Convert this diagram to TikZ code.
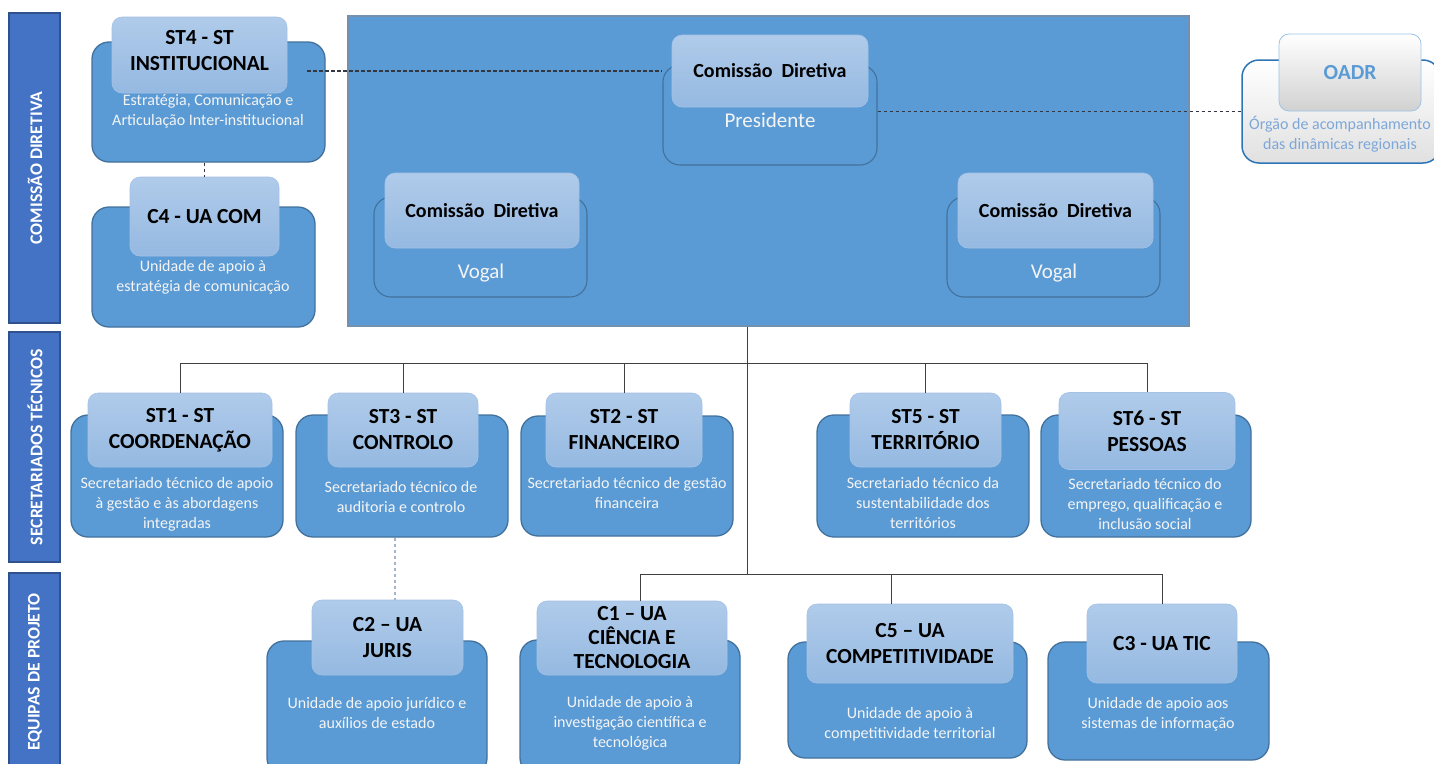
\documentclass[tikz,border=0pt]{standalone}
\usepackage{fontspec}
\setmainfont{Carlito}
\definecolor{ofill}{HTML}{5B9BD5}
\definecolor{obord}{HTML}{41719C}
\definecolor{ttop}{HTML}{B0CBEA}
\definecolor{tbot}{HTML}{95B9E1}
\definecolor{tbord}{HTML}{A4C2E6}
\definecolor{bandfill}{HTML}{4472C4}
\definecolor{bandbord}{HTML}{2F528F}
\definecolor{mainbord}{HTML}{7390AE}
\definecolor{linec}{HTML}{404040}
\definecolor{dashc}{HTML}{333840}
\definecolor{ldashc}{HTML}{A5B5C8}
\definecolor{oadrb}{HTML}{2E75B6}
\definecolor{oadrtx}{HTML}{5B9BD5}
\definecolor{oadrdx}{HTML}{7DA7D9}
\definecolor{oadrtb}{HTML}{9DC3E6}
\definecolor{descc}{HTML}{F4F4F4}
\newcommand\ttlf{\fontsize{21.5}{26}\selectfont\bfseries}
\newcommand\ttlg{\fontsize{21.5}{24}\selectfont\bfseries}
\newcommand\cdf{\fontsize{20}{24}\selectfont\bfseries}
\newcommand\descf{\fontsize{16}{20}\selectfont}
\newcommand\rolef{\fontsize{21}{24}\selectfont}
\newcommand\bandf{\fontsize{17.7}{20}\selectfont\bfseries}
\tikzset{
  obox/.style={draw=obord, fill=ofill, line width=1.3pt, rounded corners=17pt, inner sep=0pt},
  ibox/.style={draw=obord, line width=1.1pt, rounded corners=17pt, inner sep=0pt},
  tbox/.style={draw=tbord, top color=ttop, bottom color=tbot, line width=0.6pt, rounded corners=10pt, inner sep=0pt, align=center, font=\ttlf, text=black},
  ttext/.style={align=center, font=\ttlf, text=black, inner sep=0pt},
  desc/.style={text=descc, font=\descf, align=center, inner sep=0pt},
  role/.style={text=descc, font=\rolef, inner sep=0pt},
  band/.style={draw=bandbord, fill=bandfill, line width=1.2pt, inner sep=0pt},
  bandlbl/.style={text=white, font=\bandf, rotate=90, inner sep=0pt},
  mainbox/.style={draw=mainbord, fill=ofill, line width=1.4pt, inner sep=0pt},
  oadrbox/.style={draw=oadrb, line width=1.5pt, top color=white, bottom color=black!12, rounded corners=17pt, inner sep=0pt},
  oadrtitle/.style={draw=oadrtb, line width=0.8pt, top color=white, bottom color=black!18, rounded corners=10pt, inner sep=0pt, text=oadrtx, font=\ttlf},
  tree/.style={draw=linec, line width=0.9pt},
  ddash/.style={draw=dashc, line width=1.2pt, dash pattern=on 3.5pt off 2.5pt},
  ldash/.style={draw=ldashc, line width=1.2pt, dash pattern=on 3.5pt off 2.5pt}
}
\begin{document}
\begin{tikzpicture}[x=1pt,y=-1pt]
\useasboundingbox (0,0) rectangle (1434,763);
% side bands
\node[band, minimum width=51pt, minimum height=310pt] (b1) at (34.5,168) {};
\node[band, minimum width=51pt, minimum height=230pt] (b2) at (34.5,447) {};
\node[band, minimum width=51pt, minimum height=200pt] (b3) at (34.5,673) {};
\node[bandlbl] (b1l) at (35,168) {COMISSÃO DIRETIVA};
\node[bandlbl] (b2l) at (35,447) {SECRETARIADOS TÉCNICOS};
\node[bandlbl] (b3l) at (35,672) {EQUIPAS DE PROJETO};
% main container
\node[mainbox, minimum width=841pt, minimum height=310pt] (cd) at (768.5,171) {};
% ST4
\node[obox, minimum width=233pt, minimum height=120pt] (st4o) at (208.5,102) {};
\node[tbox, minimum width=175pt, minimum height=76pt] (st4t) at (199.5,55) {};
\node[ttext] (st4l) at (199.5,50.5) {ST4 - ST\\INSTITUCIONAL};
\node[desc] (st4d) at (208,111.5) {Estratégia, Comunicação e\\Articulação Inter-institucional};
% C4
\node[obox, minimum width=223pt, minimum height=120pt] (c4o) at (203.5,267) {};
\node[tbox, minimum width=149pt, minimum height=79pt] (c4t) at (204.5,216.5) {C4 - UA COM};
\node[desc] (c4d) at (203,277.5) {Unidade de apoio à\\estratégia de comunicação};
% Presidente
\node[ibox, minimum width=214pt, minimum height=100pt] (preso) at (770,115) {};
\node[tbox, font=\cdf, minimum width=196pt, minimum height=72pt] (prest) at (770,71) {Comissão\hspace{0.45em}Diretiva};
\node[role] (presr) at (770,120) {Presidente};
% Vogal left
\node[ibox, minimum width=213pt, minimum height=100pt] (vlo) at (480.5,247) {};
\node[tbox, font=\cdf, minimum width=194pt, minimum height=75pt] (vlt) at (482,210.5) {Comissão\hspace{0.45em}Diretiva};
\node[role] (vlr) at (481,273) {Vogal};
% Vogal right
\node[ibox, minimum width=213pt, minimum height=100pt] (vro) at (1053.5,247) {};
\node[tbox, font=\cdf, minimum width=195pt, minimum height=75pt] (vrt) at (1055.5,210.5) {Comissão\hspace{0.45em}Diretiva};
\node[role] (vrr) at (1054,273) {Vogal};
% OADR
\node[oadrbox, minimum width=198pt, minimum height=103pt] (oadro) at (1341,111.5) {};
\node[oadrtitle, minimum width=142pt, minimum height=77pt] (oadrt) at (1350,72.5) {OADR};
\node[desc, text=oadrdx] (oadrd) at (1340,134) {Órgão de acompanhamento\\das dinâmicas regionais};
% ST row
\node[obox, minimum width=212pt, minimum height=122pt] (st1o) at (177,476) {};
\node[tbox, minimum width=184pt, minimum height=74pt] (st1t) at (180,430) {ST1 - ST\\COORDENAÇÃO};
\node[desc] (st1d) at (177,504) {Secretariado técnico de apoio\\à gestão e às abordagens\\integradas};
\node[obox, minimum width=212pt, minimum height=122pt] (st3o) at (402,476) {};
\node[tbox, minimum width=150pt, minimum height=74pt] (st3t) at (403,430) {ST3 - ST\\CONTROLO};
\node[desc] (st3d) at (401,497) {Secretariado técnico de\\auditoria e controlo};
\node[obox, minimum width=212pt, minimum height=120pt] (st2o) at (627,476) {};
\node[tbox, minimum width=156pt, minimum height=74pt] (st2t) at (624,430) {ST2 - ST\\FINANCEIRO};
\node[desc] (st2d) at (627,492.5) {Secretariado técnico de gestão\\financeira};
\node[obox, minimum width=212pt, minimum height=122pt] (st5o) at (923,476) {};
\node[tbox, minimum width=151pt, minimum height=74pt] (st5t) at (925.5,430) {ST5 - ST\\TERRITÓRIO};
\node[desc] (st5d) at (923,503) {Secretariado técnico da\\sustentabilidade dos\\territórios};
\node[obox, minimum width=210pt, minimum height=122pt] (st6o) at (1146,476) {};
\node[tbox, minimum width=176pt, minimum height=77pt] (st6t) at (1147,431) {ST6 - ST\\PESSOAS};
\node[desc] (st6d) at (1145,504) {Secretariado técnico do\\emprego, qualificação e\\inclusão social};
% bottom row
\node[obox, minimum width=220pt, minimum height=134pt] (c2o) at (377,708) {};
\node[tbox, minimum width=151pt, minimum height=75pt] (c2t) at (387.5,637.5) {C2 – UA\\JURIS};
\node[desc] (c2d) at (377,713) {Unidade de apoio jurídico e\\auxílios de estado};
\node[obox, minimum width=220pt, minimum height=135pt] (c1o) at (630,707.5) {};
\node[tbox, font=\ttlg, minimum width=190pt, minimum height=74pt] (c1t) at (632,638) {C1 – UA\\CIÊNCIA E\\TECNOLOGIA};
\node[desc] (c1d) at (630,723) {Unidade de apoio à\\investigação científica e\\tecnológica};
\node[obox, minimum width=239pt, minimum height=116pt] (c5o) at (907.5,700) {};
\node[tbox, minimum width=206pt, minimum height=79pt] (c5t) at (910,643.5) {C5 – UA\\COMPETITIVIDADE};
\node[desc] (c5d) at (910,724) {Unidade de apoio à\\competitividade territorial};
\node[obox, minimum width=221pt, minimum height=118pt] (c3o) at (1158.5,701) {};
\node[tbox, minimum width=150pt, minimum height=79pt] (c3t) at (1162,643.5) {C3 - UA TIC};
\node[desc] (c3d) at (1158,714) {Unidade de apoio aos\\sistemas de informação};
% connectors
\coordinate (busA) at (747,363);
\coordinate (busB) at (747,574);
\draw[tree] (busA |- cd.south) -- (busB);
\draw[tree] (st1t.north) -- (st1t.north |- busA) -- (st6t.north |- busA) -- (st6t.north);
\foreach \n in {st3t,st2t,st5t} \draw[tree] (\n.north) -- (\n.north |- busA);
\coordinate (c1top) at ([xshift=8pt]c1t.north);
\coordinate (c5top) at ([xshift=-19pt]c5t.north);
\draw[tree] (c1top) -- (c1top |- busB) -- (c3t.north |- busB) -- (c3t.north);
\draw[tree] (c5top) -- (c5top |- busB);
\coordinate (dA) at ([xshift=20pt]st4t.east);
\draw[ddash] (dA |- prest.west) -- (preso.west |- prest.west);
\draw[ddash] (preso.east |- oadro.west) -- (oadro.west);
\draw[ddash] (st4o.south -| c4t.north) -- (c4t.north);
\coordinate (dB) at ([xshift=-7pt]st3o.south);
\draw[ldash] (dB) -- (dB |- c2t.north);
\end{tikzpicture}
\end{document}
